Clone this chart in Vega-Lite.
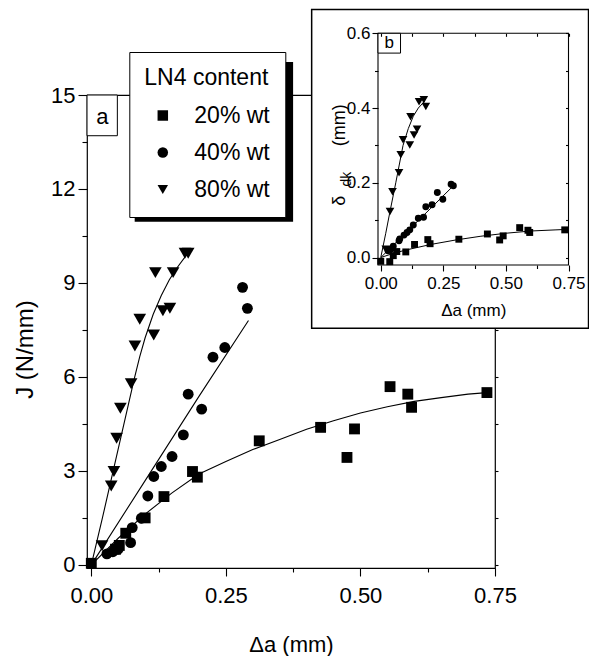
{
  "$schema": "https://vega.github.io/schema/vega-lite/v6.json",
  "width": 408,
  "height": 473,
  "autosize": {"type": "none"},
  "padding": {"left": 87, "top": 95, "right": 94, "bottom": 88},
  "background": "white",
  "config": {
    "view": {"stroke": "black", "strokeWidth": 1.2},
    "font": "Liberation Sans",
    "axis": {"grid": false, "domain": false, "tickColor": "black", "tickWidth": 1.1, "labelColor": "black", "titleColor": "black", "labelFont": "Liberation Sans", "titleFont": "Liberation Sans", "titleFontWeight": "normal", "labelFlush": false, "labelOverlap": false},
    "text": {"font": "Liberation Sans", "color": "black"}
  },
  "datasets": {
    "one": [{"k": 1}],
    "main": [
      {"g": "20% wt", "da": 0.0, "J": 0.05},
      {"g": "20% wt", "da": 0.045, "J": 0.5},
      {"g": "20% wt", "da": 0.052, "J": 0.62},
      {"g": "20% wt", "da": 0.064, "J": 1.01},
      {"g": "20% wt", "da": 0.1, "J": 1.5},
      {"g": "20% wt", "da": 0.135, "J": 2.18},
      {"g": "20% wt", "da": 0.188, "J": 2.98},
      {"g": "20% wt", "da": 0.197, "J": 2.8},
      {"g": "20% wt", "da": 0.312, "J": 3.96},
      {"g": "20% wt", "da": 0.426, "J": 4.39},
      {"g": "20% wt", "da": 0.475, "J": 3.43},
      {"g": "20% wt", "da": 0.489, "J": 4.34},
      {"g": "20% wt", "da": 0.555, "J": 5.69},
      {"g": "20% wt", "da": 0.588, "J": 5.45},
      {"g": "20% wt", "da": 0.595, "J": 5.03},
      {"g": "20% wt", "da": 0.735, "J": 5.5},
      {"g": "40% wt", "da": 0.029, "J": 0.35},
      {"g": "40% wt", "da": 0.04, "J": 0.42},
      {"g": "40% wt", "da": 0.05, "J": 0.5},
      {"g": "40% wt", "da": 0.073, "J": 0.71},
      {"g": "40% wt", "da": 0.076, "J": 1.19},
      {"g": "40% wt", "da": 0.093, "J": 1.49},
      {"g": "40% wt", "da": 0.105, "J": 2.2},
      {"g": "40% wt", "da": 0.116, "J": 2.82},
      {"g": "40% wt", "da": 0.13, "J": 3.14},
      {"g": "40% wt", "da": 0.15, "J": 3.46},
      {"g": "40% wt", "da": 0.171, "J": 4.15},
      {"g": "40% wt", "da": 0.18, "J": 5.45},
      {"g": "40% wt", "da": 0.205, "J": 4.97},
      {"g": "40% wt", "da": 0.226, "J": 6.63},
      {"g": "40% wt", "da": 0.248, "J": 6.94},
      {"g": "40% wt", "da": 0.281, "J": 8.86},
      {"g": "40% wt", "da": 0.29, "J": 8.19},
      {"g": "80% wt", "da": 0.02, "J": 0.61},
      {"g": "80% wt", "da": 0.037, "J": 2.52},
      {"g": "80% wt", "da": 0.042, "J": 2.98},
      {"g": "80% wt", "da": 0.047, "J": 4.04},
      {"g": "80% wt", "da": 0.054, "J": 5.0},
      {"g": "80% wt", "da": 0.074, "J": 5.78},
      {"g": "80% wt", "da": 0.081, "J": 6.99},
      {"g": "80% wt", "da": 0.09, "J": 7.84},
      {"g": "80% wt", "da": 0.116, "J": 7.34},
      {"g": "80% wt", "da": 0.119, "J": 9.33},
      {"g": "80% wt", "da": 0.133, "J": 8.11},
      {"g": "80% wt", "da": 0.146, "J": 8.19},
      {"g": "80% wt", "da": 0.152, "J": 9.33},
      {"g": "80% wt", "da": 0.174, "J": 9.95},
      {"g": "80% wt", "da": 0.18, "J": 9.95}
    ],
    "mainFit": [
      {"g": "20% wt", "da": 0.0, "J": 0.0},
      {"g": "20% wt", "da": 0.05, "J": 0.85},
      {"g": "20% wt", "da": 0.1, "J": 1.62},
      {"g": "20% wt", "da": 0.15, "J": 2.3},
      {"g": "20% wt", "da": 0.2, "J": 2.9},
      {"g": "20% wt", "da": 0.25, "J": 3.3},
      {"g": "20% wt", "da": 0.3, "J": 3.68},
      {"g": "20% wt", "da": 0.35, "J": 4.0},
      {"g": "20% wt", "da": 0.4, "J": 4.33},
      {"g": "20% wt", "da": 0.45, "J": 4.6},
      {"g": "20% wt", "da": 0.5, "J": 4.85},
      {"g": "20% wt", "da": 0.55, "J": 5.05},
      {"g": "20% wt", "da": 0.6, "J": 5.22},
      {"g": "20% wt", "da": 0.65, "J": 5.34},
      {"g": "20% wt", "da": 0.7, "J": 5.45},
      {"g": "20% wt", "da": 0.735, "J": 5.5},
      {"g": "40% wt", "da": 0.0, "J": 0.0},
      {"g": "40% wt", "da": 0.1, "J": 2.69},
      {"g": "40% wt", "da": 0.2, "J": 5.38},
      {"g": "40% wt", "da": 0.292, "J": 7.8},
      {"g": "80% wt", "da": 0.0, "J": 0.0},
      {"g": "80% wt", "da": 0.02, "J": 1.45},
      {"g": "80% wt", "da": 0.04, "J": 2.95},
      {"g": "80% wt", "da": 0.06, "J": 4.45},
      {"g": "80% wt", "da": 0.08, "J": 5.95},
      {"g": "80% wt", "da": 0.09, "J": 6.65},
      {"g": "80% wt", "da": 0.1, "J": 7.25},
      {"g": "80% wt", "da": 0.115, "J": 8.0},
      {"g": "80% wt", "da": 0.13, "J": 8.6},
      {"g": "80% wt", "da": 0.145, "J": 9.1},
      {"g": "80% wt", "da": 0.16, "J": 9.5},
      {"g": "80% wt", "da": 0.178, "J": 9.92}
    ],
    "inset": [
      {"g": "20% wt", "da": 0.0, "d": -0.01},
      {"g": "20% wt", "da": 0.036, "d": -0.011},
      {"g": "20% wt", "da": 0.05, "d": 0.005},
      {"g": "20% wt", "da": 0.064, "d": 0.016},
      {"g": "20% wt", "da": 0.1, "d": 0.015},
      {"g": "20% wt", "da": 0.135, "d": 0.035},
      {"g": "20% wt", "da": 0.188, "d": 0.048},
      {"g": "20% wt", "da": 0.197, "d": 0.037},
      {"g": "20% wt", "da": 0.312, "d": 0.049},
      {"g": "20% wt", "da": 0.426, "d": 0.063},
      {"g": "20% wt", "da": 0.475, "d": 0.047},
      {"g": "20% wt", "da": 0.489, "d": 0.058},
      {"g": "20% wt", "da": 0.555, "d": 0.08},
      {"g": "20% wt", "da": 0.588, "d": 0.073},
      {"g": "20% wt", "da": 0.595, "d": 0.067},
      {"g": "20% wt", "da": 0.735, "d": 0.074},
      {"g": "40% wt", "da": 0.029, "d": 0.018},
      {"g": "40% wt", "da": 0.04, "d": 0.022},
      {"g": "40% wt", "da": 0.05, "d": 0.03},
      {"g": "40% wt", "da": 0.073, "d": 0.045},
      {"g": "40% wt", "da": 0.076, "d": 0.05},
      {"g": "40% wt", "da": 0.093, "d": 0.06},
      {"g": "40% wt", "da": 0.105, "d": 0.067},
      {"g": "40% wt", "da": 0.116, "d": 0.074},
      {"g": "40% wt", "da": 0.13, "d": 0.087},
      {"g": "40% wt", "da": 0.15, "d": 0.105},
      {"g": "40% wt", "da": 0.171, "d": 0.108},
      {"g": "40% wt", "da": 0.18, "d": 0.136},
      {"g": "40% wt", "da": 0.205, "d": 0.141},
      {"g": "40% wt", "da": 0.226, "d": 0.174},
      {"g": "40% wt", "da": 0.248, "d": 0.156},
      {"g": "40% wt", "da": 0.281, "d": 0.196},
      {"g": "40% wt", "da": 0.29, "d": 0.192},
      {"g": "80% wt", "da": 0.02, "d": 0.022},
      {"g": "80% wt", "da": 0.042, "d": 0.02},
      {"g": "80% wt", "da": 0.037, "d": 0.123},
      {"g": "80% wt", "da": 0.047, "d": 0.176},
      {"g": "80% wt", "da": 0.073, "d": 0.227},
      {"g": "80% wt", "da": 0.08, "d": 0.275},
      {"g": "80% wt", "da": 0.089, "d": 0.315},
      {"g": "80% wt", "da": 0.116, "d": 0.301},
      {"g": "80% wt", "da": 0.119, "d": 0.377},
      {"g": "80% wt", "da": 0.133, "d": 0.328},
      {"g": "80% wt", "da": 0.145, "d": 0.343},
      {"g": "80% wt", "da": 0.153, "d": 0.417},
      {"g": "80% wt", "da": 0.172, "d": 0.422},
      {"g": "80% wt", "da": 0.18, "d": 0.404}
    ],
    "insetFit": [
      {"g": "20% wt", "da": 0.0, "d": 0.0},
      {"g": "20% wt", "da": 0.05, "d": 0.011},
      {"g": "20% wt", "da": 0.1, "d": 0.02},
      {"g": "20% wt", "da": 0.2, "d": 0.035},
      {"g": "20% wt", "da": 0.3, "d": 0.047},
      {"g": "20% wt", "da": 0.4, "d": 0.057},
      {"g": "20% wt", "da": 0.5, "d": 0.065},
      {"g": "20% wt", "da": 0.6, "d": 0.071},
      {"g": "20% wt", "da": 0.7, "d": 0.074},
      {"g": "20% wt", "da": 0.735, "d": 0.075},
      {"g": "40% wt", "da": 0.0, "d": 0.0},
      {"g": "40% wt", "da": 0.1, "d": 0.066},
      {"g": "40% wt", "da": 0.2, "d": 0.132},
      {"g": "40% wt", "da": 0.29, "d": 0.192},
      {"g": "80% wt", "da": 0.0, "d": 0.0},
      {"g": "80% wt", "da": 0.02, "d": 0.065},
      {"g": "80% wt", "da": 0.036, "d": 0.12},
      {"g": "80% wt", "da": 0.06, "d": 0.2},
      {"g": "80% wt", "da": 0.089, "d": 0.3},
      {"g": "80% wt", "da": 0.11, "d": 0.345},
      {"g": "80% wt", "da": 0.13, "d": 0.378},
      {"g": "80% wt", "da": 0.15, "d": 0.4},
      {"g": "80% wt", "da": 0.175, "d": 0.418}
    ]
  },
  "layer": [
    {
      "layer": [
        {
          "data": {"name": "mainFit"},
          "mark": {"type": "line", "color": "black", "strokeWidth": 1.1},
          "encoding": {
            "x": {"field": "da", "type": "quantitative", "scale": {"domain": [-0.008, 0.75], "nice": false, "zero": false}, "axis": null},
            "y": {"field": "J", "type": "quantitative", "scale": {"domain": [-0.1, 15], "nice": false, "zero": false}, "axis": null},
            "detail": {"field": "g"}
          }
        },
        {
          "data": {"name": "main"},
          "mark": {"type": "point", "filled": true, "color": "black", "opacity": 1, "strokeWidth": 0},
          "encoding": {
            "x": {"field": "da", "type": "quantitative", "scale": {"domain": [-0.008, 0.75], "nice": false, "zero": false},
              "axis": {"orient": "bottom", "values": [0, 0.125, 0.25, 0.375, 0.5, 0.625, 0.75], "format": ".2f",
                "labelExpr": "abs(datum.value*4-round(datum.value*4))<0.001 ? datum.label : ''",
                "tickSize": {"condition": {"test": "abs(datum.value*4-round(datum.value*4))<0.001", "value": 8}, "value": 4},
                "labelFontSize": 22, "labelPadding": 9, "title": "Δa (mm)", "titleFontSize": 22, "titlePadding": 28}},
            "y": {"field": "J", "type": "quantitative", "scale": {"domain": [-0.1, 15], "nice": false, "zero": false},
              "axis": {"orient": "left", "values": [0, 1.5, 3, 4.5, 6, 7.5, 9, 10.5, 12, 13.5, 15], "format": ".0f",
                "labelExpr": "datum.value % 3 == 0 ? datum.label : ''",
                "tickSize": {"condition": {"test": "datum.value % 3 == 0", "value": 9}, "value": 5},
                "labelFontSize": 22, "labelPadding": 3, "title": "J (N/mm)", "titleFontSize": 24, "titleX": -62, "titleY": 254, "titleBaseline": "middle"}},
            "shape": {"field": "g", "type": "nominal",
              "scale": {"domain": ["20% wt", "40% wt", "80% wt"], "range": ["square", "circle", "triangle-down"]},
              "legend": {"title": "LN4 content", "orient": "none", "legendX": 42.3, "legendY": -43,
                "fillColor": "white", "strokeColor": "black", "padding": 15,
                "titleFont": "Liberation Sans", "titleFontSize": 23, "titleFontWeight": "normal", "titleColor": "black", "titlePadding": 14,
                "labelFont": "Liberation Sans", "labelFontSize": 23, "labelColor": "black", "labelOffset": 20,
                "symbolSize": 110, "symbolFillColor": "black", "symbolStrokeColor": "black", "symbolStrokeWidth": 0, "symbolOffset": 7, "rowPadding": 13, "zindex": 2}},
            "size": {"condition": {"test": "datum.g == '80% wt'", "value": 160}, "value": 118}
          }
        },
        {
          "data": {"name": "one"},
          "mark": {"type": "rect", "color": "black"},
          "encoding": {
            "x": {"datum": 0.0806, "type": "quantitative", "scale": {"domain": [-0.008, 0.75], "nice": false, "zero": false}, "axis": null},
            "x2": {"datum": 0.3749},
            "y": {"datum": 16.05, "type": "quantitative", "scale": {"domain": [-0.1, 15], "nice": false, "zero": false}, "axis": null},
            "y2": {"datum": 10.95}
          }
        },
        {
          "data": {"name": "one"},
          "mark": {"type": "rect", "fill": "white", "stroke": "black", "strokeWidth": 1},
          "encoding": {
            "x": {"datum": -0.008, "type": "quantitative", "scale": {"domain": [-0.008, 0.75], "nice": false, "zero": false}, "axis": null},
            "x2": {"datum": 0.0484},
            "y": {"datum": 15, "type": "quantitative", "scale": {"domain": [-0.1, 15], "nice": false, "zero": false},
              "axis": {"orient": "right", "values": [0, 1.5, 3, 4.5, 6, 7.5, 9, 10.5, 12, 13.5, 15], "labels": false, "tickSize": 3, "title": null}},
            "y2": {"datum": 13.7}
          }
        },
        {
          "data": {"name": "one"},
          "mark": {"type": "text", "text": "a", "fontSize": 22, "align": "center", "baseline": "middle"},
          "encoding": {
            "x": {"datum": 0.0206, "type": "quantitative", "scale": {"domain": [-0.008, 0.75], "nice": false, "zero": false}, "axis": null},
            "y": {"datum": 14.3, "type": "quantitative", "scale": {"domain": [-0.1, 15], "nice": false, "zero": false}, "axis": null}
          }
        }
      ],
      "resolve": {"axis": {"x": "independent", "y": "independent"}}
    },
    {
      "layer": [
        {
          "data": {"name": "one"},
          "mark": {"type": "rect", "fill": "white", "stroke": "black", "strokeWidth": 1.5},
          "encoding": {
            "x": {"datum": -0.276, "type": "quantitative", "scale": {"domain": [-0.011, 0.75], "range": [291, 481.5], "nice": false, "zero": false}, "axis": null},
            "x2": {"datum": 0.83},
            "y": {"datum": 0.664, "type": "quantitative", "scale": {"domain": [-0.02, 0.6], "range": [170, -61.7], "nice": false, "zero": false}, "axis": null},
            "y2": {"datum": -0.189}
          }
        },
        {
          "data": {"name": "one"},
          "mark": {"type": "rect", "fill": "white", "fillOpacity": 0, "stroke": "black", "strokeWidth": 1.1},
          "encoding": {
            "x": {"datum": -0.011, "type": "quantitative", "scale": {"domain": [-0.011, 0.75], "range": [291, 481.5], "nice": false, "zero": false},
              "axis": {"orient": "bottom", "offset": -534.7, "zindex": 1, "values": [0, 0.125, 0.25, 0.375, 0.5, 0.625, 0.75], "labels": false, "tickSize": 3, "title": null}},
            "x2": {"datum": 0.75},
            "y": {"datum": -0.02, "type": "quantitative", "scale": {"domain": [-0.02, 0.6], "range": [170, -61.7], "nice": false, "zero": false},
              "axis": {"orient": "left", "offset": -481.5, "zindex": 1, "values": [0, 0.1, 0.2, 0.3, 0.4, 0.5, 0.6], "labels": false, "tickSize": 3, "title": null}},
            "y2": {"datum": 0.6}
          }
        },
        {
          "data": {"name": "insetFit"},
          "mark": {"type": "line", "color": "black", "strokeWidth": 1},
          "encoding": {
            "x": {"field": "da", "type": "quantitative", "scale": {"domain": [-0.011, 0.75], "range": [291, 481.5], "nice": false, "zero": false}, "axis": null},
            "y": {"field": "d", "type": "quantitative", "scale": {"domain": [-0.02, 0.6], "range": [170, -61.7], "nice": false, "zero": false}, "axis": null},
            "detail": {"field": "g"}
          }
        },
        {
          "data": {"name": "inset"},
          "mark": {"type": "point", "filled": true, "color": "black", "opacity": 1, "strokeWidth": 0},
          "encoding": {
            "x": {"field": "da", "type": "quantitative", "scale": {"domain": [-0.011, 0.75], "range": [291, 481.5], "nice": false, "zero": false},
              "axis": {"orient": "bottom", "offset": -303, "zindex": 1, "values": [0, 0.125, 0.25, 0.375, 0.5, 0.625, 0.75], "format": ".2f",
                "labelExpr": "abs(datum.value*4-round(datum.value*4))<0.001 ? datum.label : ''",
                "tickSize": {"condition": {"test": "abs(datum.value*4-round(datum.value*4))<0.001", "value": 6}, "value": 3.5},
                "labelFontSize": 17, "labelPadding": 4, "title": "Δa (mm)", "titleFontSize": 17, "titlePadding": 11}},
            "y": {"field": "d", "type": "quantitative", "scale": {"domain": [-0.02, 0.6], "range": [170, -61.7], "nice": false, "zero": false},
              "axis": {"orient": "left", "offset": -291, "zindex": 1, "values": [0, 0.1, 0.2, 0.3, 0.4, 0.5, 0.6], "format": ".1f",
                "labelExpr": "abs(datum.value*5-round(datum.value*5))<0.001 ? datum.label : ''",
                "tickSize": {"condition": {"test": "abs(datum.value*5-round(datum.value*5))<0.001", "value": 6}, "value": 3.5},
                "labelFontSize": 17, "labelPadding": 2, "title": null}},
            "shape": {"field": "g", "type": "nominal",
              "scale": {"domain": ["20% wt", "40% wt", "80% wt"], "range": ["square", "circle", "triangle-down"]}, "legend": null},
            "size": {"condition": {"test": "datum.g == '80% wt'", "value": 75}, "value": 48}
          }
        },
        {
          "data": {"name": "one"},
          "mark": {"type": "rect", "fill": "white", "stroke": "black", "strokeWidth": 1},
          "encoding": {
            "x": {"datum": -0.011, "type": "quantitative", "scale": {"domain": [-0.011, 0.75], "range": [291, 481.5], "nice": false, "zero": false}, "axis": null},
            "x2": {"datum": 0.079},
            "y": {"datum": 0.6, "type": "quantitative", "scale": {"domain": [-0.02, 0.6], "range": [170, -61.7], "nice": false, "zero": false}, "axis": null},
            "y2": {"datum": 0.547}
          }
        },
        {
          "data": {"name": "one"},
          "mark": {"type": "text", "text": "b", "fontSize": 17, "align": "center", "baseline": "middle"},
          "encoding": {
            "x": {"datum": 0.034, "type": "quantitative", "scale": {"domain": [-0.011, 0.75], "range": [291, 481.5], "nice": false, "zero": false}, "axis": null},
            "y": {"datum": 0.573, "type": "quantitative", "scale": {"domain": [-0.02, 0.6], "range": [170, -61.7], "nice": false, "zero": false}, "axis": null}
          }
        },
        {
          "data": {"name": "one"},
          "mark": {"type": "text", "text": "δ", "fontSize": 18, "angle": 270, "align": "center", "baseline": "middle"},
          "encoding": {
            "x": {"datum": -0.161, "type": "quantitative", "scale": {"domain": [-0.011, 0.75], "range": [291, 481.5], "nice": false, "zero": false}, "axis": null},
            "y": {"datum": 0.152, "type": "quantitative", "scale": {"domain": [-0.02, 0.6], "range": [170, -61.7], "nice": false, "zero": false}, "axis": null}
          }
        },
        {
          "data": {"name": "one"},
          "mark": {"type": "text", "text": "dk", "fontSize": 14, "angle": 270, "align": "center", "baseline": "middle"},
          "encoding": {
            "x": {"datum": -0.135, "type": "quantitative", "scale": {"domain": [-0.011, 0.75], "range": [291, 481.5], "nice": false, "zero": false}, "axis": null},
            "y": {"datum": 0.21, "type": "quantitative", "scale": {"domain": [-0.02, 0.6], "range": [170, -61.7], "nice": false, "zero": false}, "axis": null}
          }
        },
        {
          "data": {"name": "one"},
          "mark": {"type": "text", "text": "(mm)", "fontSize": 18, "angle": 270, "align": "center", "baseline": "middle"},
          "encoding": {
            "x": {"datum": -0.161, "type": "quantitative", "scale": {"domain": [-0.011, 0.75], "range": [291, 481.5], "nice": false, "zero": false}, "axis": null},
            "y": {"datum": 0.354, "type": "quantitative", "scale": {"domain": [-0.02, 0.6], "range": [170, -61.7], "nice": false, "zero": false}, "axis": null}
          }
        }
      ],
      "resolve": {"axis": {"x": "independent", "y": "independent"}}
    }
  ],
  "resolve": {
    "scale": {"x": "independent", "y": "independent", "shape": "independent"},
    "axis": {"x": "independent", "y": "independent"},
    "legend": {"shape": "independent"}
  }
}
